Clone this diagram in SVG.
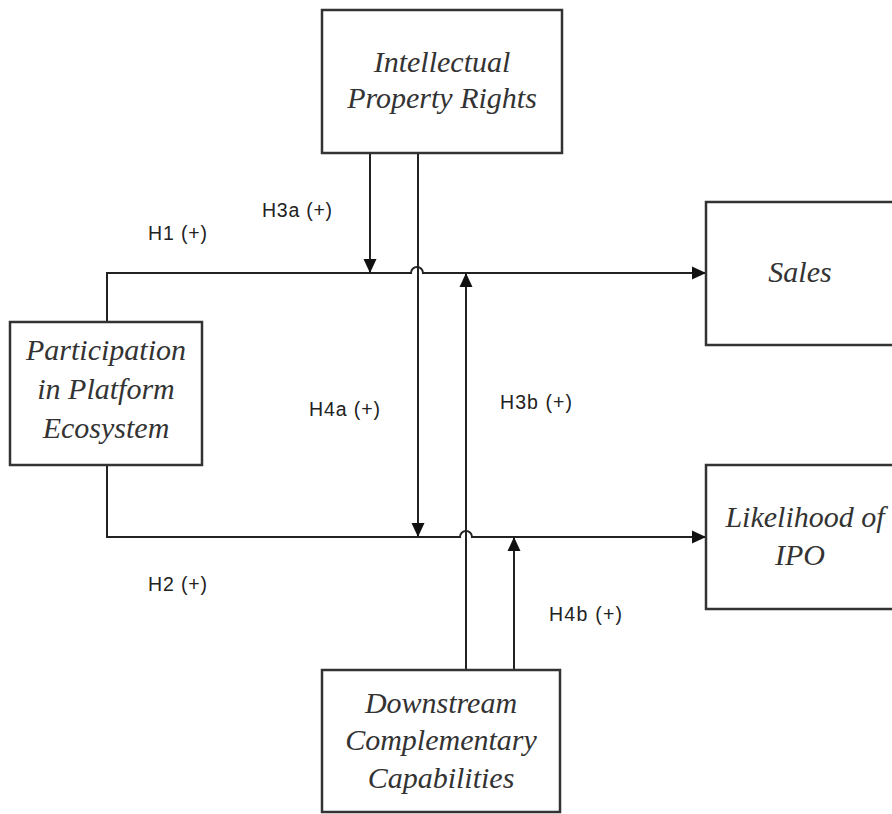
<svg xmlns="http://www.w3.org/2000/svg" width="892" height="814" viewBox="0 0 892 814">
<defs>
<marker id="ah" markerUnits="userSpaceOnUse" markerWidth="14" markerHeight="14" viewBox="0 0 14 14" refX="14" refY="7" orient="auto">
<path d="M0,0.5 L14,7 L0,13.5 Z" fill="#111"/>
</marker>
<style>
.box{fill:#fff;stroke:#333;stroke-width:2.5}
.t{font-family:"Liberation Serif","Times New Roman",serif;font-style:italic;font-size:30px;fill:#333;text-anchor:middle}
.lab{font-family:"Liberation Sans",Arial,sans-serif;font-size:19.5px;fill:#222}
.c{fill:none;stroke:#222;stroke-width:2}
</style>
</defs>
<rect width="892" height="814" fill="#fff"/>
<g id="connectors">
<path class="c" d="M107,322 V273 H411 A6,6 0 0 1 423,273 H706" marker-end="url(#ah)"/>
<path class="c" d="M107,465 V537 H460 A6,6 0 0 1 472,537 H706" marker-end="url(#ah)"/>
<path class="c" d="M370,153 V273" marker-end="url(#ah)"/>
<path class="c" d="M418,153 V537" marker-end="url(#ah)"/>
<path class="c" d="M466,670 V273" marker-end="url(#ah)"/>
<path class="c" d="M514,670 V537" marker-end="url(#ah)"/>
</g>
<g id="labels">
<text class="lab" x="148" y="240" textLength="59">H1 (+)</text>
<text class="lab" x="262" y="217" textLength="70">H3a (+)</text>
<text class="lab" x="309" y="416" textLength="71">H4a (+)</text>
<text class="lab" x="500" y="409" textLength="72">H3b (+)</text>
<text class="lab" x="148" y="591" textLength="59">H2 (+)</text>
<text class="lab" x="549" y="621" textLength="73">H4b (+)</text>
</g>
<g id="ipr">
<rect class="box" x="322" y="10" width="240" height="143"/>
<text class="t" x="442" y="72">Intellectual</text>
<text class="t" x="442" y="108">Property Rights</text>
</g>
<g id="participation">
<rect class="box" x="10" y="322" width="192" height="143"/>
<text class="t" x="106" y="360">Participation</text>
<text class="t" x="106" y="399">in Platform</text>
<text class="t" x="106" y="438">Ecosystem</text>
</g>
<g id="sales">
<rect class="box" x="706" y="202" width="200" height="143"/>
<text class="t" x="800" y="282">Sales</text>
</g>
<g id="ipo">
<rect class="box" x="706" y="465" width="200" height="144"/>
<text class="t" x="805" y="527">Likelihood of</text>
<text class="t" x="800" y="565">IPO</text>
</g>
<g id="dcc">
<rect class="box" x="322" y="670" width="238" height="142"/>
<text class="t" x="441" y="713">Downstream</text>
<text class="t" x="441" y="750">Complementary</text>
<text class="t" x="441" y="788">Capabilities</text>
</g>
</svg>
